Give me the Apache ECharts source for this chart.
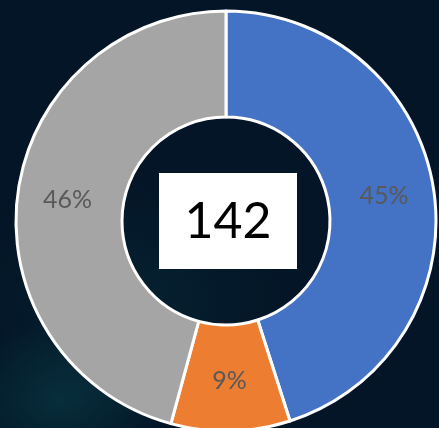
<!DOCTYPE html>
<html>
<head>
<meta charset="utf-8">
<script src="https://cdn.jsdelivr.net/npm/echarts@6/dist/echarts.min.js"></script>
<style>
  html, body { margin: 0; padding: 0; }
  body {
    width: 439px; height: 428px; overflow: hidden;
    background:
      radial-gradient(ellipse 110px 80px at 60px 400px, rgba(20,120,120,0.25), rgba(0,0,0,0)),
      radial-gradient(ellipse 160px 120px at 130px 300px, rgba(20,90,100,0.18), rgba(0,0,0,0)),
      #031526;
  }
  #chart { width: 439px; height: 428px; }
</style>
</head>
<body>
<div id="chart"></div>
<script>
// slice values (total 142)
const categories = ['A', 'B', 'C']
const values = [64, 13, 65]
const colors = ['#4472C4', '#ED7D31', '#A5A5A5']
const totalLabel = '142'

const chart = echarts.init(document.getElementById('chart'))

chart.setOption({
    backgroundColor: 'transparent',
    animation: false,
    series: [
        {
            type: 'pie',
            center: [226, 221],
            radius: [104, 210],
            startAngle: 90,
            clockwise: true,
            itemStyle: {
                borderColor: '#ffffff',
                borderWidth: 3
            },
            label: {
                show: true,
                position: 'inside',
                formatter: p => Math.round(p.percent) + '%',
                color: '#595959',
                fontSize: 25,
                fontFamily: 'Lato, "Open Sans", sans-serif'
            },
            labelLine: { show: false },
            emphasis: { disabled: true },
            data: categories.map((c, i) => ({
                name: c,
                value: values[i],
                itemStyle: { color: colors[i] }
            }))
        }
    ],
    graphic: [
        {
            type: 'rect',
            left: 159,
            top: 173,
            shape: { width: 138, height: 96 },
            style: { fill: '#ffffff' }
        },
        {
            type: 'text',
            x: 228,
            y: 222,
            style: {
                text: totalLabel,
                fill: '#000000',
                fontSize: 50,
                fontFamily: 'Lato, "Open Sans", sans-serif',
                align: 'center',
                verticalAlign: 'middle'
            }
        }
    ]
})
</script>
</body>
</html>
